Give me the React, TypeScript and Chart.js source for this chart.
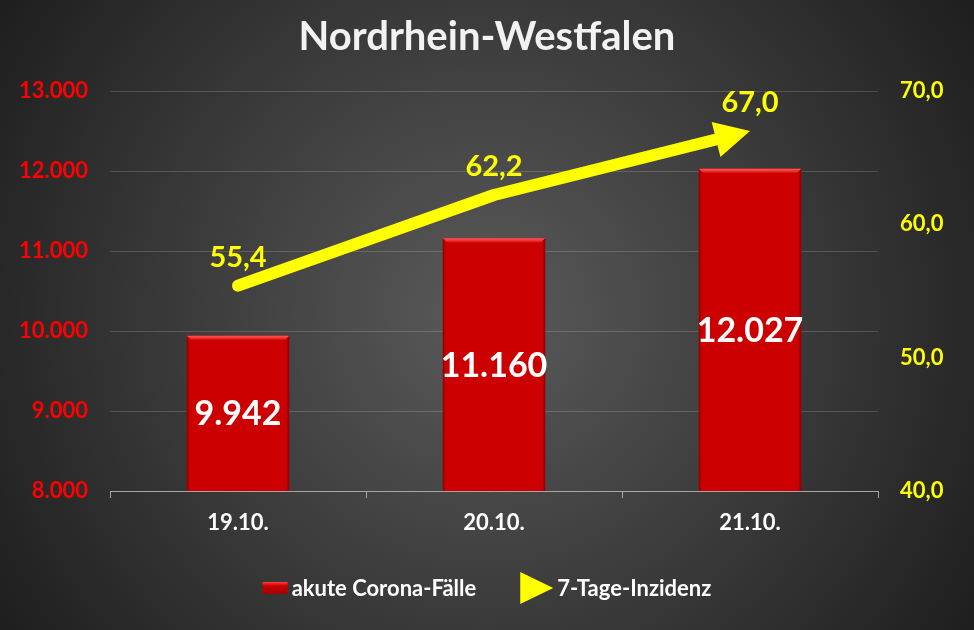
import React, { useEffect, useRef } from "react";
import { Chart, registerables } from "chart.js";

Chart.register(...registerables);

const TITLE = "Nordrhein-Westfalen";
const categories = ["19.10.", "20.10.", "21.10."];
const caseLabel = "akute Corona-Fälle";
const caseValues = [9942, 11160, 12027];
const incidenceLabel = "7-Tage-Inzidenz";
const incidenceValues = [55.4, 62.2, 67.0];
const leftTicks = { min: 8000, max: 13000, step: 1000 };
const rightTicks = { min: 40, max: 70, step: 10 };

const FONT = "Lato, 'Open Sans', sans-serif";
const RED = "#CC0000";
const YELLOW = "#FFFF00";

const fmtThousands = (v: number) =>
  Math.round(v)
    .toString()
    .replace(/\B(?=(\d{3})+(?!\d))/g, ".");
const fmtDecimal = (v: number) => v.toFixed(1).replace(".", ",");

const ARROW_LEN = 35;
const ARROW_HALF = 18;

function arrowGeom(chart: any) {
  const meta = chart.getDatasetMeta(1);
  const pts = meta.data;
  const n = pts.length;
  const a = pts[n - 2];
  const b = pts[n - 1];
  const dx = b.x - a.x;
  const dy = b.y - a.y;
  const len = Math.hypot(dx, dy) || 1;
  const ux = dx / len;
  const uy = dy / len;
  const bx = b.x - ux * ARROW_LEN;
  const by = b.y - uy * ARROW_LEN;
  return { tip: { x: b.x, y: b.y }, base: { x: bx, y: by }, ux, uy };
}

const backgroundPlugin = {
  id: "bgGradient",
  beforeDraw(chart: any) {
    const { ctx, width, height } = chart;
    const cx = width / 2;
    const cy = height / 2;
    const g = ctx.createRadialGradient(cx, cy, 0, cx, cy, Math.hypot(cx, cy));
    g.addColorStop(0, "#5a5a5a");
    g.addColorStop(1, "#1e1e1e");
    ctx.save();
    ctx.fillStyle = g;
    ctx.fillRect(0, 0, width, height);
    ctx.restore();
  },
};

const arrowPlugin = {
  id: "arrowLine",
  beforeDatasetDraw(chart: any, args: any) {
    if (args.index !== 1) return;
    const { ctx } = chart;
    const { base, ux, uy } = arrowGeom(chart);
    const px = -uy;
    const py = ux;
    const F = 3000;
    ctx.save();
    ctx.beginPath();
    const b1x = base.x + ux * 2;
    const b1y = base.y + uy * 2;
    ctx.moveTo(b1x + px * F, b1y + py * F);
    ctx.lineTo(b1x - px * F, b1y - py * F);
    ctx.lineTo(b1x - px * F - ux * F, b1y - py * F - uy * F);
    ctx.lineTo(b1x + px * F - ux * F, b1y + py * F - uy * F);
    ctx.closePath();
    ctx.clip();
  },
  afterDatasetDraw(chart: any, args: any) {
    if (args.index !== 1) return;
    const { ctx } = chart;
    ctx.restore();
    const { tip, base, ux, uy } = arrowGeom(chart);
    const px = -uy;
    const py = ux;
    ctx.save();
    ctx.fillStyle = YELLOW;
    ctx.beginPath();
    ctx.moveTo(tip.x, tip.y);
    ctx.lineTo(base.x + px * ARROW_HALF, base.y + py * ARROW_HALF);
    ctx.lineTo(base.x - px * ARROW_HALF, base.y - py * ARROW_HALF);
    ctx.closePath();
    ctx.fill();
    ctx.restore();
  },
};

function barBox(chart: any, bar: any) {
  const w = bar.width;
  const bottom = Math.min(bar.base, chart.chartArea.bottom);
  return { left: bar.x - w / 2, right: bar.x + w / 2, top: bar.y, bottom, w };
}

const barBevelPlugin = {
  id: "barBevel",
  afterDatasetDraw(chart: any, args: any) {
    if (args.index !== 0) return;
    const { ctx } = chart;
    const meta = chart.getDatasetMeta(0);
    ctx.save();
    meta.data.forEach((bar: any) => {
      const { left, right, top, bottom, w } = barBox(chart, bar);
      const b = 4;
      const gs = ctx.createLinearGradient(left, 0, right, 0);
      gs.addColorStop(0, "rgba(90,0,0,0.55)");
      gs.addColorStop(0.03, "rgba(90,0,0,0)");
      gs.addColorStop(0.97, "rgba(90,0,0,0)");
      gs.addColorStop(1, "rgba(90,0,0,0.55)");
      ctx.fillStyle = gs;
      ctx.fillRect(left, top, w, bottom - top);
      const gt = ctx.createLinearGradient(0, top, 0, top + b);
      gt.addColorStop(0, "#ff5a5a");
      gt.addColorStop(1, "#e41515");
      ctx.fillStyle = gt;
      ctx.beginPath();
      ctx.moveTo(left, top);
      ctx.lineTo(right, top);
      ctx.lineTo(right - b, top + b);
      ctx.lineTo(left + b, top + b);
      ctx.closePath();
      ctx.fill();
    });
    ctx.restore();
  },
};

const labelsPlugin = {
  id: "valueLabels",
  afterDatasetsDraw(chart: any) {
    const { ctx } = chart;
    ctx.save();
    ctx.textAlign = "center";
    ctx.textBaseline = "middle";
    const barMeta = chart.getDatasetMeta(0);
    ctx.font = `bold 34px ${FONT}`;
    ctx.fillStyle = "#FFFFFF";
    barMeta.data.forEach((bar: any, i: number) => {
      const { top, bottom } = barBox(chart, bar);
      ctx.fillText(fmtThousands(caseValues[i]), bar.x, (top + bottom) / 2 + 1);
    });
    const lineMeta = chart.getDatasetMeta(1);
    ctx.font = `bold 29px ${FONT}`;
    ctx.fillStyle = YELLOW;
    lineMeta.data.forEach((pt: any, i: number) => {
      ctx.fillText(fmtDecimal(incidenceValues[i]), pt.x, pt.y - 28);
    });
    ctx.restore();
  },
};

const legendPlugin = {
  id: "customLegend",
  afterDraw(chart: any) {
    const { ctx, width } = chart;
    const y = 588;
    ctx.save();
    ctx.font = `bold 22px ${FONT}`;
    ctx.textBaseline = "middle";
    ctx.textAlign = "left";
    const t1 = ctx.measureText(caseLabel).width;
    const t2 = ctx.measureText(incidenceLabel).width;
    const boxW = 25;
    const triW = 33;
    const gapText = 4;
    const gapItems = 44;
    const total = boxW + gapText + t1 + gapItems + triW + gapText + t2;
    let x = (width - total) / 2;
    const g = ctx.createLinearGradient(0, y - 6, 0, y + 6);
    g.addColorStop(0, "#ff4040");
    g.addColorStop(0.3, RED);
    g.addColorStop(1, "#a00000");
    ctx.fillStyle = g;
    ctx.fillRect(x, y - 6, boxW, 12);
    x += boxW + gapText;
    ctx.fillStyle = "#FFFFFF";
    ctx.fillText(caseLabel, x, y + 1);
    x += t1 + gapItems;
    ctx.fillStyle = YELLOW;
    ctx.beginPath();
    ctx.moveTo(x, y - 16);
    ctx.lineTo(x + triW, y);
    ctx.lineTo(x, y + 16);
    ctx.closePath();
    ctx.fill();
    x += triW + gapText;
    ctx.fillStyle = "#FFFFFF";
    ctx.fillText(incidenceLabel, x, y + 1);
    ctx.restore();
  },
};

export default function App() {
  const ref = useRef<HTMLCanvasElement | null>(null);

  useEffect(() => {
    if (!ref.current) return;
    const chart = new Chart(ref.current, {
      type: "bar",
      data: {
        labels: categories,
        datasets: [
          {
            type: "bar",
            label: caseLabel,
            data: caseValues,
            backgroundColor: RED,
            borderWidth: 0,
            yAxisID: "y",
            categoryPercentage: 0.8,
            barPercentage: 0.5,
            order: 2,
          },
          {
            type: "line",
            label: incidenceLabel,
            data: incidenceValues,
            borderColor: YELLOW,
            backgroundColor: YELLOW,
            borderWidth: 12,
            borderCapStyle: "round",
            borderJoinStyle: "round",
            pointRadius: 0,
            pointHoverRadius: 0,
            tension: 0,
            yAxisID: "y1",
            clip: false,
            order: 1,
          } as any,
        ],
      },
      options: {
        responsive: false,
        animation: false,
        layout: { padding: 0 },
        plugins: {
          legend: { display: false },
          tooltip: { enabled: false },
          title: {
            display: true,
            text: TITLE,
            color: "#F2F2F2",
            font: { family: FONT, size: 40, weight: "bold" },
            padding: { top: 13, bottom: 30 },
          },
        },
        scales: {
          x: {
            grid: {
              display: true,
              drawOnChartArea: false,
              drawTicks: true,
              tickLength: 7,
              color: "#A6A6A6",
              offset: true,
            },
            border: { display: true, color: "#A6A6A6", width: 1 },
            ticks: {
              color: "#FFFFFF",
              font: { family: FONT, size: 22, weight: "bold" },
              padding: 12,
            },
            afterFit: (scale: any) => {
              scale.height = 139;
            },
          },
          y: {
            position: "left",
            min: leftTicks.min,
            max: leftTicks.max,
            grid: {
              color: "rgba(255,255,255,0.16)",
              drawTicks: false,
            },
            border: { display: false },
            ticks: {
              stepSize: leftTicks.step,
              color: "#FF0000",
              font: { family: FONT, size: 22, weight: "bold" },
              padding: 22,
              callback: (v: any) => fmtThousands(Number(v)),
            },
            afterFit: (scale: any) => {
              scale.width = 110;
            },
          },
          y1: {
            position: "right",
            min: rightTicks.min,
            max: rightTicks.max,
            grid: { display: false, drawTicks: false },
            border: { display: false },
            ticks: {
              stepSize: rightTicks.step,
              color: YELLOW,
              font: { family: FONT, size: 22, weight: "bold" },
              padding: 22,
              callback: (v: any) => fmtDecimal(Number(v)),
            },
            afterFit: (scale: any) => {
              scale.width = 96;
            },
          },
        },
      },
      plugins: [backgroundPlugin, barBevelPlugin, arrowPlugin, labelsPlugin, legendPlugin],
    });
    return () => chart.destroy();
  }, []);

  return (
    <div style={{ position: "fixed", left: 0, top: 0, width: 974, height: 630 }}>
      <canvas ref={ref} width={974} height={630} style={{ display: "block" }} />
    </div>
  );
}
